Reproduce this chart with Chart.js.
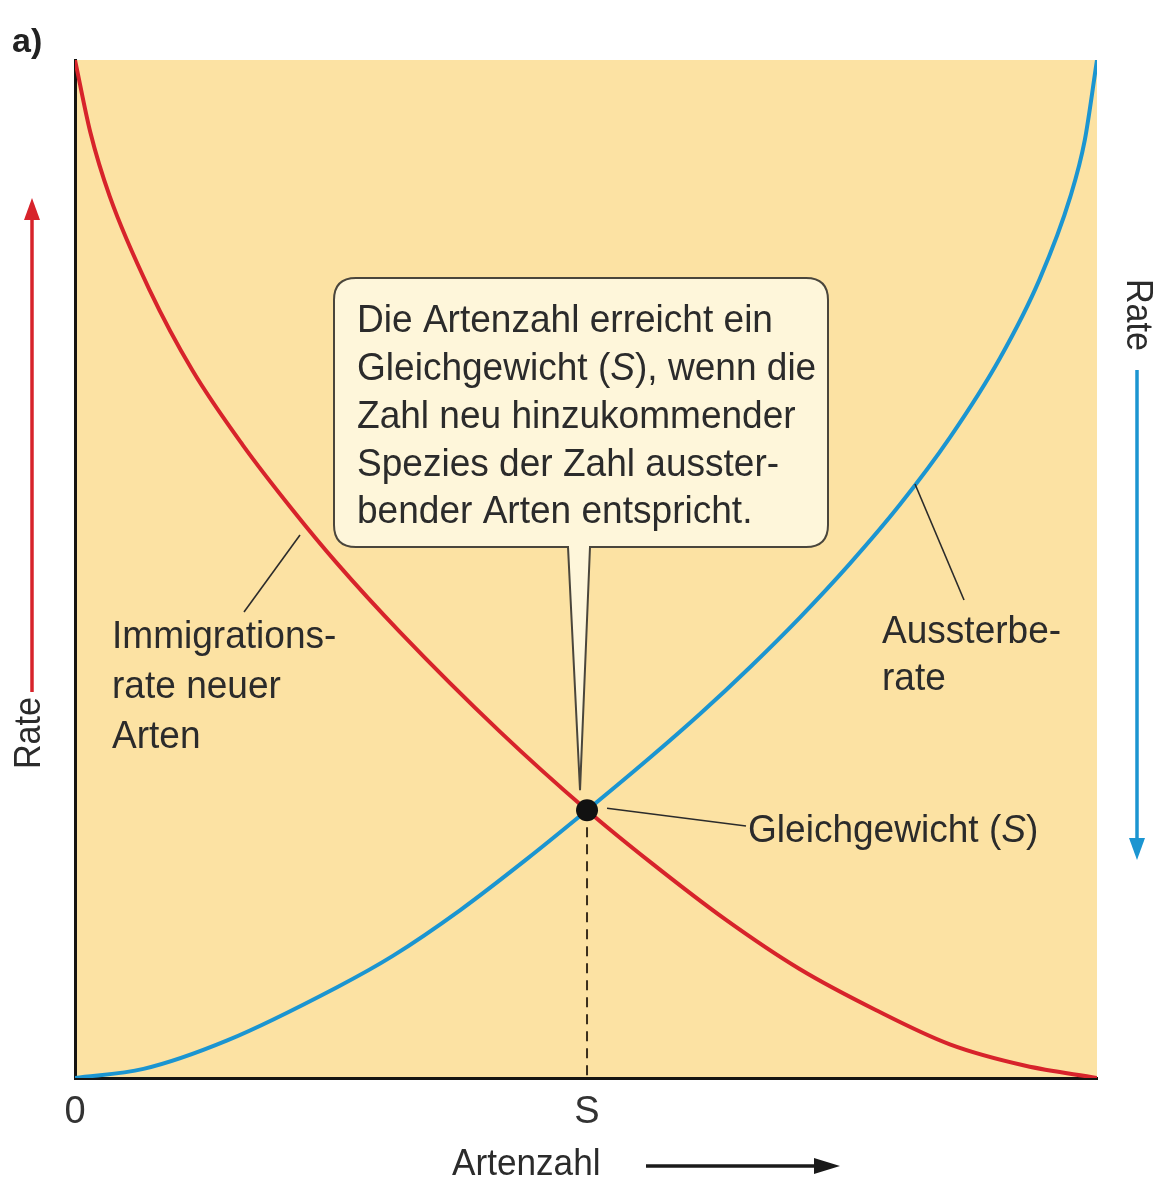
<!DOCTYPE html>
<html>
<head>
<meta charset="utf-8">
<script src="https://cdn.jsdelivr.net/npm/chart.js@4/dist/chart.umd.min.js"></script>
<style>
  body { margin: 0; background: #ffffff; }
  canvas { display: block; }
</style>
</head>
<body>
<canvas id="islandChart" width="1159" height="1182"></canvas>
<script>
// Artenzahl (x, 0..100) and Rate (y, 0..100)
var immigrationX = [0, 1.5, 3.4, 7.3, 11.5, 16.4, 21.3, 25.6, 31.8, 41.6, 50.1, 56.3, 63.6, 70.9, 78.3, 85.6, 93.0, 100];
var immigrationY = [100, 92.9, 86.6, 77.4, 69.5, 62.2, 55.8, 50.6, 43.8, 34.0, 26.3, 21.2, 15.6, 10.7, 6.7, 3.3, 1.2, 0];

var extinctionX = [0, 6.7, 14.9, 25.6, 31.1, 37.7, 44.2, 50.1, 56.3, 61.2, 66.1, 70.9, 75.8, 80.7, 85.6, 90.5, 94.4, 97.4, 98.8, 100];
var extinctionY = [0, 0.9, 3.7, 8.9, 12.0, 16.5, 21.5, 26.3, 31.5, 35.8, 40.4, 45.2, 50.5, 56.3, 62.9, 70.7, 78.5, 86.6, 92.1, 100];

var equilibriumX = [50.1];
var equilibriumY = [26.3];

var xTickValues = [0, 50.1];
var xTickLabels = ['0', 'S'];

var RED = '#d7232b';
var BLUE = '#1b95d1';
var INK = '#2b2b2b';
var FONT = '"Liberation Sans", Arial, sans-serif';
var SX = 0.95;

function toPoints(xs, ys) {
  return xs.map(function(x, i) { return { x: x, y: ys[i] }; });
}

function runs(ctx, parts, x, y, size) {
  // parts: [text, italic]
  var cx = x;
  parts.forEach(function(p) {
    ctx.save();
    ctx.font = (p[1] ? 'italic ' : '') + size + 'px ' + FONT;
    ctx.fillStyle = INK;
    ctx.textBaseline = 'alphabetic';
    ctx.textAlign = 'left';
    ctx.translate(cx, y);
    ctx.scale(SX, 1);
    ctx.fillText(p[0], 0, 0);
    cx += ctx.measureText(p[0]).width * SX;
    ctx.restore();
  });
}

function label(ctx, s, x, y, size, opt) {
  opt = opt || {};
  ctx.save();
  ctx.font = (opt.bold ? 'bold ' : '') + size + 'px ' + FONT;
  ctx.fillStyle = opt.color || INK;
  ctx.textAlign = opt.align || 'left';
  ctx.textBaseline = opt.baseline || 'alphabetic';
  ctx.translate(x, y);
  if (opt.rot) ctx.rotate(opt.rot);
  ctx.scale(opt.sx || SX, 1);
  ctx.fillText(s, 0, 0);
  ctx.restore();
}

function line(ctx, x1, y1, x2, y2, color, w) {
  ctx.save();
  ctx.strokeStyle = color;
  ctx.lineWidth = w;
  ctx.beginPath();
  ctx.moveTo(x1, y1);
  ctx.lineTo(x2, y2);
  ctx.stroke();
  ctx.restore();
}

function arrow(ctx, x1, y1, x2, y2, color, w, headLen, headW) {
  var a = Math.atan2(y2 - y1, x2 - x1);
  var bx = x2 - headLen * Math.cos(a), by = y2 - headLen * Math.sin(a);
  line(ctx, x1, y1, bx, by, color, w);
  ctx.save();
  ctx.fillStyle = color;
  ctx.beginPath();
  ctx.moveTo(x2, y2);
  ctx.lineTo(bx + headW * Math.sin(a), by - headW * Math.cos(a));
  ctx.lineTo(bx - headW * Math.sin(a), by + headW * Math.cos(a));
  ctx.closePath();
  ctx.fill();
  ctx.restore();
}

var decor = {
  id: 'decor',
  beforeDraw: function(chart) {
    var a = chart.chartArea, ctx = chart.ctx;
    ctx.save();
    ctx.fillStyle = '#fce2a3';
    ctx.fillRect(a.left, a.top, a.right - a.left, a.bottom - a.top);
    ctx.restore();
  },
  afterDatasetsDraw: function(chart) {
    var ctx = chart.ctx;
    var xs = chart.scales.x, ys = chart.scales.y;
    var ex = xs.getPixelForValue(equilibriumX[0]);
    var ey = ys.getPixelForValue(equilibriumY[0]);

    // speech bubble
    var L = 334, R = 828, T = 278, B = 547, r = 22;
    ctx.save();
    ctx.beginPath();
    ctx.moveTo(L + r, T);
    ctx.lineTo(R - r, T);
    ctx.quadraticCurveTo(R, T, R, T + r);
    ctx.lineTo(R, B - r);
    ctx.quadraticCurveTo(R, B, R - r, B);
    ctx.lineTo(590, B);
    ctx.lineTo(ex - 7, ey - 20);
    ctx.lineTo(568, B);
    ctx.lineTo(L + r, B);
    ctx.quadraticCurveTo(L, B, L, B - r);
    ctx.lineTo(L, T + r);
    ctx.quadraticCurveTo(L, T, L + r, T);
    ctx.closePath();
    ctx.fillStyle = '#fef6da';
    ctx.fill();
    ctx.strokeStyle = '#4a463c';
    ctx.lineWidth = 2;
    ctx.stroke();
    ctx.restore();

    var fs = 39;
    runs(ctx, [['Die Artenzahl erreicht ein', false]], 357, 332, fs);
    runs(ctx, [['Gleichgewicht (', false], ['S', true], ['), wenn die', false]], 357, 380, fs);
    runs(ctx, [['Zahl neu hinzukommender', false]], 357, 428, fs);
    runs(ctx, [['Spezies der Zahl ausster-', false]], 357, 476, fs);
    runs(ctx, [['bender Arten entspricht.', false]], 357, 523, fs);

    // curve labels with leader lines
    line(ctx, 244, 612, 300, 535, '#2b2b2b', 1.6);
    label(ctx, 'Immigrations-', 112, 648, 39);
    label(ctx, 'rate neuer', 112, 698, 39);
    label(ctx, 'Arten', 112, 748, 39);

    line(ctx, 964, 600, 915, 484, '#2b2b2b', 1.6);
    label(ctx, 'Aussterbe-', 882, 643, 39);
    label(ctx, 'rate', 882, 690, 39);

    line(ctx, ex + 20, ey - 2, 746, 826, '#2b2b2b', 1.6);
    runs(ctx, [['Gleichgewicht (', false], ['S', true], [')', false]], 748, 842, 39);
  },
  afterDraw: function(chart) {
    var ctx = chart.ctx;
    label(ctx, 'a)', 12, 52, 34, { bold: true, sx: 1, color: '#222' });

    // x axis title with arrow
    label(ctx, 'Artenzahl', 452, 1175, 37, { sx: 0.95 });
    arrow(ctx, 646, 1166, 840, 1166, '#1a1a1a', 3.5, 26, 8);

    // left rate arrow (red, up)
    label(ctx, 'Rate', 30, 733, 36, { rot: -Math.PI / 2, align: 'center', baseline: 'middle', sx: 0.95 });
    arrow(ctx, 32, 692, 32, 198, RED, 3.5, 22, 8);

    // right rate arrow (blue, down)
    label(ctx, 'Rate', 1137, 315, 36, { rot: Math.PI / 2, align: 'center', baseline: 'middle', sx: 0.95 });
    arrow(ctx, 1137, 370, 1137, 860, BLUE, 3.5, 22, 8);
  }
};

var ctx = document.getElementById('islandChart').getContext('2d');

var chart = new Chart(ctx, {
  type: 'line',
  data: {
    datasets: [
      {
        label: 'Immigrationsrate neuer Arten',
        data: toPoints(immigrationX, immigrationY),
        borderColor: RED,
        borderWidth: 4,
        pointRadius: 0,
        cubicInterpolationMode: 'monotone',
        fill: false,
        order: 2
      },
      {
        label: 'Aussterberate',
        data: toPoints(extinctionX, extinctionY),
        borderColor: BLUE,
        borderWidth: 4,
        pointRadius: 0,
        cubicInterpolationMode: 'monotone',
        fill: false,
        order: 1
      },
      {
        label: 'S',
        data: [{ x: equilibriumX[0], y: equilibriumY[0] }, { x: equilibriumX[0], y: 0 }],
        borderColor: '#3a2e1c',
        borderWidth: 2,
        borderDash: [10, 7],
        pointRadius: 0,
        fill: false,
        order: 3
      },
      {
        label: 'Gleichgewicht',
        data: toPoints(equilibriumX, equilibriumY),
        showLine: false,
        backgroundColor: '#111111',
        borderColor: '#111111',
        pointRadius: 11,
        pointBackgroundColor: '#111111',
        pointBorderColor: '#111111',
        pointBorderWidth: 0,
        order: 0
      }
    ]
  },
  options: {
    responsive: false,
    animation: false,
    layout: { padding: { left: 75, right: 62, top: 60, bottom: 0 } },
    plugins: {
      legend: { display: false },
      tooltip: { enabled: false }
    },
    scales: {
      x: {
        type: 'linear',
        min: 0,
        max: 100,
        afterFit: function(scale) { scale.height = 104; },
        afterBuildTicks: function(scale) {
          scale.ticks = xTickValues.map(function(v) { return { value: v }; });
        },
        ticks: {
          autoSkip: false,
          maxRotation: 0,
          padding: 12,
          color: '#333333',
          font: { family: FONT, size: 38 },
          callback: function(value) {
            var i = xTickValues.indexOf(value);
            return i >= 0 ? xTickLabels[i] : '';
          }
        },
        grid: { display: true, drawOnChartArea: false, drawTicks: false, color: 'rgba(0,0,0,0)' },
        border: { display: true, color: '#161412', width: 3 }
      },
      y: {
        type: 'linear',
        min: 0,
        max: 100,
        afterFit: function(scale) { scale.width = 0; },
        ticks: { display: false },
        grid: { display: true, drawOnChartArea: false, drawTicks: false, color: 'rgba(0,0,0,0)' },
        border: { display: true, color: '#161412', width: 3 }
      }
    }
  },
  plugins: [decor]
});
</script>
</body>
</html>
